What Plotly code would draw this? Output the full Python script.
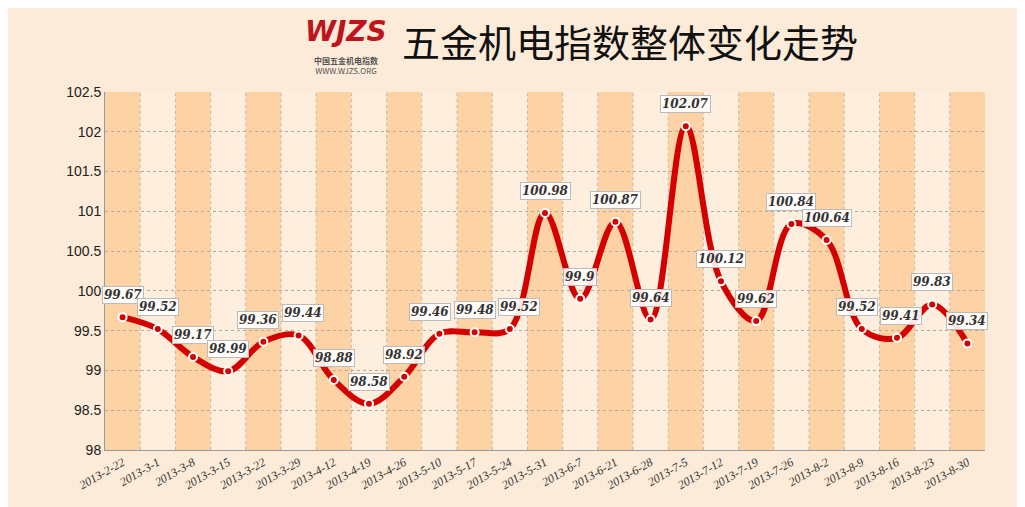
import plotly.graph_objects as go

dates = ["2013-2-22","2013-3-1","2013-3-8","2013-3-15","2013-3-22","2013-3-29","2013-4-12","2013-4-19","2013-4-26","2013-5-10","2013-5-17","2013-5-24","2013-5-31","2013-6-7","2013-6-21","2013-6-28","2013-7-5","2013-7-12","2013-7-19","2013-7-26","2013-8-2","2013-8-9","2013-8-16","2013-8-23","2013-8-30"]
values = [99.67,99.52,99.17,98.99,99.36,99.44,98.88,98.58,98.92,99.46,99.48,99.52,100.98,99.9,100.87,99.64,102.07,100.12,99.62,100.84,100.64,99.52,99.41,99.83,99.34]
yticks = [98,98.5,99,99.5,100,100.5,101,101.5,102,102.5]

xs = list(range(len(dates)))
fig = go.Figure()
shapes = []
for i in xs:
    shapes.append(dict(type="rect", xref="x", yref="y", x0=i-0.5, x1=i+0.5, y0=98, y1=102.5,
                       fillcolor="#fdd2a4" if i % 2 == 0 else "#fdeedd", line_width=0, layer="below"))
    if i > 0:
        shapes.append(dict(type="line", xref="x", yref="y", x0=i-0.5, x1=i-0.5, y0=98, y1=102.5,
                           line=dict(color="#c8b8a8", width=1, dash="dot"), layer="below"))
fig.add_trace(go.Scatter(x=xs, y=values, mode="lines", line=dict(shape="spline", smoothing=1.0, color="#d40000", width=6),
                         hoverinfo="skip"))
fig.add_trace(go.Scatter(x=xs, y=values, mode="markers", marker=dict(color="#d40000", size=8, line=dict(color="white", width=2)),
                         hoverinfo="skip"))
nudge = {4: -5, 5: 4, 9: -9, 11: 9, 21: -5, 22: 4}
ann = []
for i, v in zip(xs, values):
    ann.append(dict(x=i, y=v, xref="x", yref="y", text=f"<b><i>{v:g}</i></b>", showarrow=False, yshift=22,
                    xshift=nudge.get(i, 0),
                    font=dict(family="DejaVu Serif", size=12, color="#333"), bgcolor="rgba(255,255,255,0.9)",
                    bordercolor="#bbb", borderwidth=1, borderpad=1))
ann.append(dict(xref="paper", yref="paper", x=0.225, y=1.22, xanchor="left", text="<b><i>WJZS</i></b>", showarrow=False,
                font=dict(family="DejaVu Sans", size=28, color="#c0141c")))
ann.append(dict(xref="paper", yref="paper", x=0.235, y=1.11, xanchor="left", text="<b>中国五金机电指数</b><br>WWW.WJZS.ORG",
                showarrow=False, font=dict(family="Noto Sans CJK SC", size=8, color="#555")))
ann.append(dict(xref="paper", yref="paper", x=0.335, y=1.225, xanchor="left", text="五金机电指数整体变化走势", showarrow=False,
                font=dict(family="Noto Sans CJK SC", size=38, color="#111")))
fig.update_layout(
    width=1025, height=507, margin=dict(l=97, r=48, t=84, b=65),
    paper_bgcolor="#fcebd8", plot_bgcolor="#fcebd8", showlegend=False,
    shapes=shapes, annotations=ann,
    xaxis=dict(tickvals=xs, ticktext=[f"<i>{d}</i>" for d in dates], range=[-0.5, 24.5], tickangle=-30,
               showgrid=False, zeroline=False, showline=True, linecolor="#999",
               tickfont=dict(family="Liberation Serif", size=12, color="#333")),
    yaxis=dict(tickvals=yticks, ticktext=[f"{t:g}" for t in yticks], range=[98, 102.5], showgrid=True,
               gridcolor="#b8a898", griddash="dot", zeroline=False, showline=True, linecolor="#999",
               tickfont=dict(family="Liberation Sans", size=14, color="#222")),
)
fig.write_html("out.html")
